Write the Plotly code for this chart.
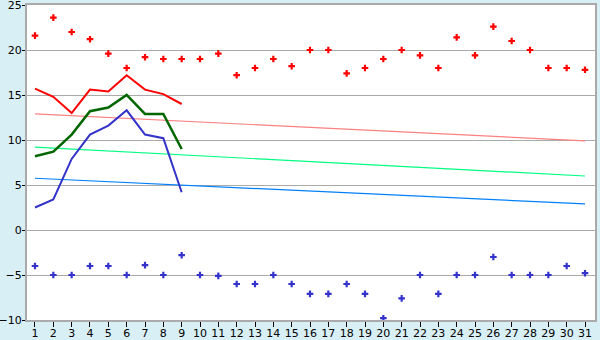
import plotly.graph_objects as go

days = list(range(1, 32))
max_pts = [21.6, 23.6, 22.0, 21.2, 19.6, 18.0, 19.2, 19.0, 19.0, 19.0,
           19.6, 17.2, 18.0, 19.0, 18.2, 20.0, 20.0, 17.4, 18.0, 19.0,
           20.0, 19.4, 18.0, 21.4, 19.4, 22.6, 21.0, 20.0, 18.0, 18.0, 17.8]
min_pts = [-4.0, -5.0, -5.0, -4.0, -4.0, -5.0, -3.9, -5.0, -2.8, -5.0,
           -5.1, -6.0, -6.0, -5.0, -6.0, -7.1, -7.1, -6.0, -7.1, -9.8,
           -7.6, -5.0, -7.1, -5.0, -5.0, -3.0, -5.0, -5.0, -5.0, -4.0, -4.8]
line_days = list(range(1, 10))
red_line = [15.7, 14.8, 13.0, 15.6, 15.4, 17.2, 15.6, 15.1, 14.0]
green_line = [8.2, 8.7, 10.6, 13.2, 13.6, 15.0, 12.9, 12.9, 9.0]
blue_line = [2.5, 3.4, 7.9, 10.6, 11.6, 13.3, 10.6, 10.2, 4.2]
trend_days = [1, 31]
trend_red = [12.9, 9.9]
trend_green = [9.2, 6.0]
trend_blue = [5.75, 2.9]
y_ticks = [-10, -5, 0, 5, 10, 15, 20, 25]

fig = go.Figure()
fig.add_trace(go.Scatter(x=trend_days, y=trend_red, mode="lines",
                         line=dict(color="#FF8080", width=1.2)))
fig.add_trace(go.Scatter(x=trend_days, y=trend_green, mode="lines",
                         line=dict(color="#00FF80", width=1.2)))
fig.add_trace(go.Scatter(x=trend_days, y=trend_blue, mode="lines",
                         line=dict(color="#0080FF", width=1.2)))
fig.add_trace(go.Scatter(x=line_days, y=red_line, mode="lines",
                         line=dict(color="#FF0000", width=2)))
fig.add_trace(go.Scatter(x=line_days, y=green_line, mode="lines",
                         line=dict(color="#006600", width=2.5)))
fig.add_trace(go.Scatter(x=line_days, y=blue_line, mode="lines",
                         line=dict(color="#3333CC", width=2)))
fig.add_trace(go.Scatter(x=days, y=max_pts, mode="markers",
                         marker=dict(symbol="cross", size=5.5, color="#FF0000",
                                     line=dict(width=0))))
fig.add_trace(go.Scatter(x=days, y=min_pts, mode="markers",
                         marker=dict(symbol="cross", size=5.5, color="#3333CC",
                                     line=dict(width=0))))

fig.update_layout(
    width=600, height=340,
    margin=dict(l=27, r=5, t=5, b=20, autoexpand=False),
    paper_bgcolor="#D9EFF6", plot_bgcolor="#FFFFFF",
    showlegend=False,
    font=dict(family="DejaVu Sans", size=11, color="#000000"),
)
fig.update_xaxes(range=[0.564, 31.545], tickmode="array", tickvals=days,
                 ticktext=[str(d) for d in days], automargin=False,
                 ticklabeloverflow="allow", ticklabelstandoff=-3,
                 showgrid=False, zeroline=False,
                 showline=True, linecolor="#AAAAAA", linewidth=2, mirror=True,
                 ticks="outside", ticklen=5, tickcolor="#000000", tickwidth=1)
fig.update_yaxes(range=[-10, 25], tickmode="array", tickvals=y_ticks,
                 automargin=False, ticklabeloverflow="allow",
                 ticklabelstandoff=-2,
                 showgrid=True, gridcolor="#AAAAAA", gridwidth=1,
                 zeroline=False,
                 showline=True, linecolor="#AAAAAA", linewidth=2, mirror=True,
                 ticks="outside", ticklen=3, tickcolor="#000000", tickwidth=1)

fig.write_html("out.html")
